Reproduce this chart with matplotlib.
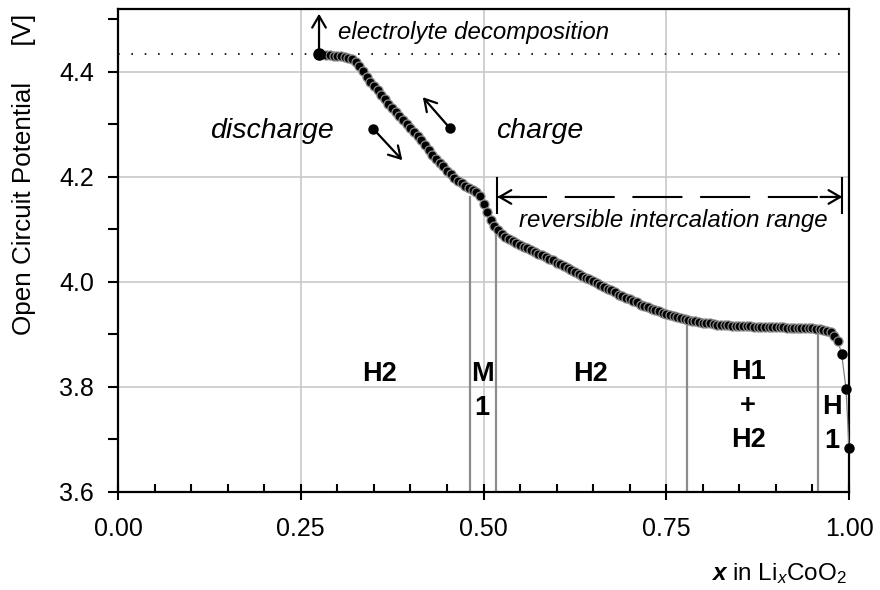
import numpy as np
import matplotlib
matplotlib.use("Agg")
import matplotlib.pyplot as plt
from matplotlib.ticker import MultipleLocator, FormatStrFormatter

plt.rcParams['font.family'] = ['Liberation Sans', 'DejaVu Sans']
plt.rcParams['mathtext.fontset'] = 'custom'
plt.rcParams['mathtext.rm'] = 'Liberation Sans'
plt.rcParams['mathtext.it'] = 'Liberation Sans:italic'
plt.rcParams['mathtext.bf'] = 'Liberation Sans:bold'
plt.rcParams['mathtext.bfit'] = 'Liberation Sans:italic:bold'

# Open circuit potential of LixCoO2, dense measured points
x_ocp = [0.285, 0.290, 0.295, 0.300, 0.305, 0.310, 0.315, 0.320, 0.325, 0.330,
         0.335, 0.340, 0.345, 0.350, 0.355, 0.360, 0.365, 0.370, 0.375, 0.380,
         0.385, 0.390, 0.395, 0.400, 0.405, 0.410, 0.415, 0.420, 0.425, 0.430,
         0.435, 0.440, 0.445, 0.450, 0.455, 0.460, 0.465, 0.470, 0.475, 0.480,
         0.485, 0.490, 0.495, 0.500, 0.505, 0.510, 0.515, 0.520, 0.525, 0.530,
         0.535, 0.540, 0.545, 0.550, 0.555, 0.560, 0.565, 0.570, 0.575, 0.580,
         0.585, 0.590, 0.595, 0.600, 0.605, 0.610, 0.615, 0.620, 0.625, 0.630,
         0.635, 0.640, 0.645, 0.650, 0.655, 0.660, 0.665, 0.670, 0.675, 0.680,
         0.685, 0.690, 0.695, 0.700, 0.705, 0.710, 0.715, 0.720, 0.725, 0.730,
         0.735, 0.740, 0.745, 0.750, 0.755, 0.760, 0.765, 0.770, 0.775, 0.780,
         0.785, 0.790, 0.795, 0.800, 0.805, 0.810, 0.815, 0.820, 0.825, 0.830,
         0.835, 0.840, 0.845, 0.850, 0.855, 0.860, 0.865, 0.870, 0.875, 0.880,
         0.885, 0.890, 0.895, 0.900, 0.905, 0.910, 0.915, 0.920, 0.925, 0.930,
         0.935, 0.940, 0.945, 0.950, 0.955, 0.960, 0.965, 0.970, 0.975, 0.980,
         0.985]
v_ocp = [4.433, 4.432, 4.431, 4.431, 4.430, 4.429, 4.427, 4.424, 4.419, 4.411,
         4.402, 4.390, 4.381, 4.373, 4.365, 4.357, 4.348, 4.339, 4.331, 4.324,
         4.316, 4.309, 4.301, 4.294, 4.286, 4.279, 4.270, 4.261, 4.251, 4.242,
         4.235, 4.227, 4.220, 4.212, 4.205, 4.199, 4.193, 4.188, 4.183, 4.179,
         4.175, 4.171, 4.163, 4.149, 4.133, 4.118, 4.107, 4.099, 4.092, 4.086,
         4.082, 4.078, 4.074, 4.070, 4.067, 4.064, 4.061, 4.057, 4.054, 4.051,
         4.048, 4.044, 4.041, 4.037, 4.034, 4.030, 4.026, 4.023, 4.019, 4.015,
         4.012, 4.008, 4.005, 4.001, 3.998, 3.994, 3.991, 3.987, 3.984, 3.980,
         3.976, 3.973, 3.970, 3.967, 3.964, 3.961, 3.957, 3.955, 3.952, 3.949,
         3.946, 3.944, 3.941, 3.939, 3.937, 3.935, 3.933, 3.931, 3.929, 3.928,
         3.926, 3.925, 3.923, 3.922, 3.922, 3.921, 3.920, 3.919, 3.919, 3.918,
         3.918, 3.917, 3.917, 3.917, 3.916, 3.916, 3.916, 3.915, 3.915, 3.915,
         3.915, 3.914, 3.914, 3.914, 3.914, 3.914, 3.913, 3.913, 3.913, 3.913,
         3.913, 3.912, 3.912, 3.912, 3.911, 3.910, 3.909, 3.907, 3.904, 3.898,
         3.888]

# sparse points at full lithiation
x_end = [0.990, 0.996, 1.000]
v_end = [3.862, 3.796, 3.684]

# upper limit (electrolyte decomposition)
x_limit = 0.275
v_limit = 4.435

# phase boundaries and their labels
phase_x = [0.482, 0.517, 0.778, 0.958]
phase_top = [4.162, 4.093, 3.925, 3.900]
phase_labels = ["H2", "M\n1", "H2", "H1\n+\nH2", "H\n1"]
phase_label_x = [0.358, 0.498, 0.646, 0.862, 0.976]
phase_label_y = [3.825, 3.792, 3.825, 3.764, 3.730]

x_ticks = [0.00, 0.25, 0.50, 0.75, 1.00]

fig = plt.figure(figsize=(8.8, 5.9), dpi=100)
ax = fig.add_axes([118 / 880, 98 / 590, 731 / 880, 483 / 590])
ax.set_xlim(0, 1)
ax.set_ylim(3.6, 4.52)

ax.set_xticks(x_ticks)
ax.xaxis.set_major_formatter(FormatStrFormatter('%.2f'))
ax.xaxis.set_minor_locator(MultipleLocator(0.05))
ax.yaxis.set_major_locator(MultipleLocator(0.2))
ax.yaxis.set_major_formatter(FormatStrFormatter('%.1f'))
ax.yaxis.set_minor_locator(MultipleLocator(0.1))

ax.tick_params(axis='x', which='major', direction='inout', length=11.5,
               width=1.5, labelsize=18, pad=12)
ax.tick_params(axis='x', which='minor', direction='in', length=6, width=1.5)
ax.tick_params(axis='y', which='both', direction='out', length=7.2,
               width=1.5, labelsize=18, pad=10)
for s in ax.spines.values():
    s.set_linewidth(1.6)
    s.set_color('black')

ax.grid(True, which='major', color='#c8c8c8', lw=1.2, zorder=0)
ax.set_axisbelow(True)

# decomposition limit
ax.axhline(v_limit, color='black', lw=1.2, ls=(0, (1, 7)), zorder=1)

# phase boundary lines
for px, pt in zip(phase_x, phase_top):
    ax.plot([px, px], [3.6, pt], color='#8c8c8c', lw=1.6, zorder=2)

for lab, lx, ly in zip(phase_labels, phase_label_x, phase_label_y):
    ax.text(lx, ly, lab, ha='center', va='center', fontsize=19.5,
            fontweight='bold', linespacing=1.4, zorder=3)

# measured curve
x_all = [x_limit] + x_ocp + x_end
v_all = [v_limit] + v_ocp + v_end
ax.plot(x_all, v_all, color='#808080', lw=0.9, zorder=4, clip_on=False)
ax.plot(x_ocp, v_ocp, 'o', ms=6.5, mfc='black', mec='#8a8a8a', mew=0.9,
        zorder=5, clip_on=False)
ax.plot(x_end, v_end, 'o', ms=6.5, color='black', zorder=6, clip_on=False)
ax.plot([x_limit], [v_limit], 'o', ms=8, color='black', zorder=6)

arrow = dict(arrowstyle='->, head_length=0.6, head_width=0.35',
             lw=1.6, color='black', shrinkA=0, shrinkB=0, mutation_scale=14)

# electrolyte decomposition arrow
ax.annotate('', xy=(x_limit, 4.511), xytext=(x_limit, v_limit),
            arrowprops=arrow, zorder=6)
ax.text(0.301, 4.476, 'electrolyte decomposition', fontsize=17.3,
        style='italic', ha='left', va='center')

# discharge / charge direction arrows
ax.plot([0.349, 0.454], [4.292, 4.293], 'o', ms=6.5, color='black', ls='none')
ax.annotate('', xy=(0.389, 4.232), xytext=(0.349, 4.292), arrowprops=arrow)
ax.annotate('', xy=(0.417, 4.352), xytext=(0.454, 4.293), arrowprops=arrow)
ax.text(0.211, 4.288, 'discharge', fontsize=20.5, style='italic',
        ha='center', va='center')
ax.text(0.577, 4.288, 'charge', fontsize=20.5, style='italic',
        ha='center', va='center')

# reversible intercalation range
xl, xr, yr = 0.519, 0.991, 4.162
ax.plot([xl, xr], [yr, yr], color='black', lw=1.5, dashes=(24, 8.5),
        solid_capstyle='butt', dash_capstyle='butt')
ax.annotate('', xy=(xl, yr), xytext=(xl + 0.03, yr), arrowprops=arrow)
ax.annotate('', xy=(xr, yr), xytext=(xr - 0.03, yr), arrowprops=arrow)
for bx in (xl, xr):
    ax.plot([bx, bx], [4.131, 4.198], color='black', lw=1.5)
ax.text(0.759, 4.118, 'reversible intercalation range', fontsize=17.3,
        style='italic', ha='center', va='center')

# axis titles
fig.text(24 / 880, 1 - 174 / 590, 'Open Circuit Potential     [V]',
         rotation=90, ha='center', va='center', fontsize=18.7)
ax.text(0.997, -0.182, r'$\mathbfit{x}$ in Li$_{\mathit{x}}$CoO$_{2}$',
        transform=ax.transAxes, ha='right', va='baseline', fontsize=17.5)

fig.savefig('out.png', dpi=100)
